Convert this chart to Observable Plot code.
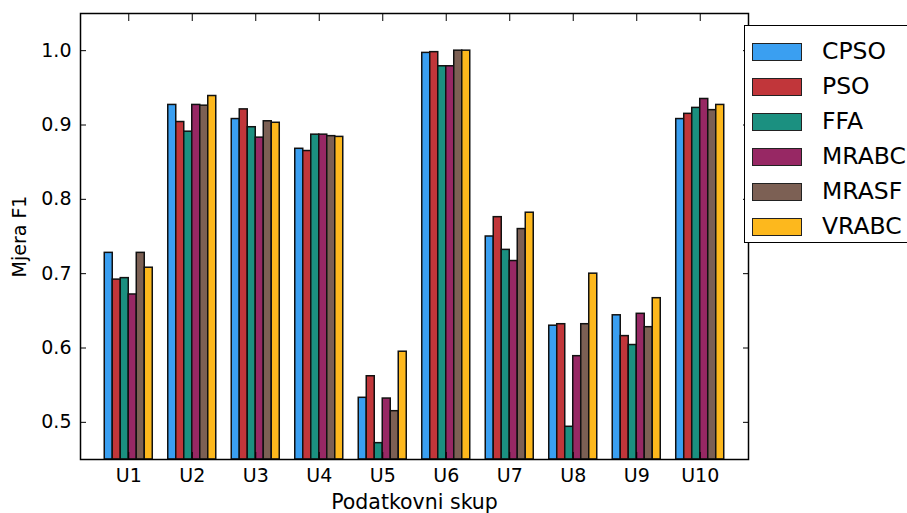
<!DOCTYPE html>
<html>
<head>
<meta charset="utf-8">
<script src="https://cdn.jsdelivr.net/npm/d3@7"></script>
<script src="https://cdn.jsdelivr.net/npm/@observablehq/plot@0.6"></script>
<style>
  html, body { margin: 0; padding: 0; background: #fff; overflow: hidden; }
  #wrap { position: relative; width: 907px; height: 513px; overflow: hidden; font-family: "DejaVu Sans", sans-serif; }
  #legend { position: absolute; left: 744px; top: 25px; width: 200px; height: 218px; background: #fff;
            border: 1.5px solid #000; box-sizing: border-box; padding-top: 8px; }
  .item { display: flex; align-items: center; height: 35px; }
  .sw { width: 50px; height: 18px; box-sizing: border-box; border: 1.5px solid #222; margin-left: 7px; margin-right: 20px; }
  .lab { font-size: 23.5px; color: #000; line-height: 1; }
</style>
</head>
<body>
<div id="wrap"></div>
<script>
// ---- data ----
const groups = ["U1", "U2", "U3", "U4", "U5", "U6", "U7", "U8", "U9", "U10"];
const series = ["CPSO", "PSO", "FFA", "MRABC", "MRASF", "VRABC"];
const colors = ["#3a9ff1", "#c1363a", "#1b9080", "#972864", "#7c6054", "#fdb81d"];
const CPSO  = [0.728, 0.927, 0.908, 0.868, 0.533, 0.997, 0.750, 0.630, 0.644, 0.908];
const PSO   = [0.692, 0.904, 0.921, 0.865, 0.562, 0.998, 0.776, 0.632, 0.616, 0.915];
const FFA   = [0.694, 0.891, 0.897, 0.887, 0.472, 0.979, 0.732, 0.494, 0.604, 0.923];
const MRABC = [0.672, 0.927, 0.883, 0.887, 0.532, 0.979, 0.717, 0.589, 0.646, 0.935];
const MRASF = [0.728, 0.926, 0.905, 0.885, 0.515, 1.000, 0.760, 0.632, 0.628, 0.920];
const VRABC = [0.708, 0.939, 0.903, 0.884, 0.595, 1.000, 0.782, 0.700, 0.667, 0.927];
const yTicks = [0.5, 0.6, 0.7, 0.8, 0.9, 1.0];
const yLabel = "Mjera F1";
const xLabel = "Podatkovni skup";

// ---- build table ----
const valuesBySeries = [CPSO, PSO, FFA, MRABC, MRASF, VRABC];
const rows = [];
series.forEach((s, si) => {
  valuesBySeries[si].forEach((v, gi) => {
    rows.push({group: groups[gi], gi: gi + 1, series: s, si, value: v});
  });
});
const BAR = 0.126;
const yDomain = [0.45, 1.05];
const groupPos = groups.map((g, i) => i + 1);

const chart = Plot.plot({
  width: 907,
  height: 513,
  marginLeft: 80,
  marginRight: 159,
  marginTop: 13,
  marginBottom: 54,
  style: {fontFamily: "DejaVu Sans", fontSize: "19px", color: "#000", background: "#fff"},
  x: {domain: [0.24, 10.76]},
  y: {domain: yDomain},
  color: {domain: series, range: colors},
  marks: [
    Plot.rectY(rows, {
      x1: d => d.gi + (d.si - 3) * BAR,
      x2: d => d.gi + (d.si - 2) * BAR,
      y1: yDomain[0],
      y2: "value",
      fill: "series",
      stroke: "#111",
      strokeWidth: 1.5
    }),
    Plot.frame({stroke: "#000", strokeWidth: 1.5}),
    // y tick labels (left)
    Plot.axisY({anchor: "left", ticks: yTicks, tickFormat: d3.format(".1f"), tickSize: 0, tickPadding: 9,
      fontSize: 19, label: yLabel, labelAnchor: "center", labelArrow: "none", labelOffset: 68}),
    // inward ticks left / right
    Plot.axisY({anchor: "left", ticks: yTicks, tickSize: 6, dx: 6, fill: "none", label: null}),
    Plot.axisY({anchor: "right", ticks: yTicks, tickSize: 6, dx: -6, fill: "none", label: null}),
    // x tick labels (bottom)
    Plot.axisX({anchor: "bottom", ticks: groupPos, tickFormat: d => groups[d - 1], tickSize: 0, tickPadding: 9,
      fontSize: 19, label: xLabel, labelAnchor: "center", labelArrow: "none", labelOffset: 49}),
    // inward ticks top / bottom
    Plot.axisX({anchor: "top", ticks: groupPos, tickSize: 7, dy: 7, fill: "none", label: null}),
    Plot.axisX({anchor: "bottom", ticks: groupPos, tickSize: 7, dy: -7, fill: "none", label: null})
  ]
});

const wrap = document.getElementById("wrap");
wrap.appendChild(chart);

// axis label font sizes
chart.querySelectorAll("g[aria-label='y-axis label'] text").forEach(t => t.setAttribute("font-size", "19"));
chart.querySelectorAll("g[aria-label='x-axis label'] text").forEach(t => t.setAttribute("font-size", "20.5"));

// legend
const legend = document.createElement("div");
legend.id = "legend";
series.forEach((s, i) => {
  const item = document.createElement("div");
  item.className = "item";
  const sw = document.createElement("div");
  sw.className = "sw";
  sw.style.background = colors[i];
  const lab = document.createElement("span");
  lab.className = "lab";
  lab.textContent = s;
  item.appendChild(sw);
  item.appendChild(lab);
  legend.appendChild(item);
});
wrap.appendChild(legend);
</script>
</body>
</html>
